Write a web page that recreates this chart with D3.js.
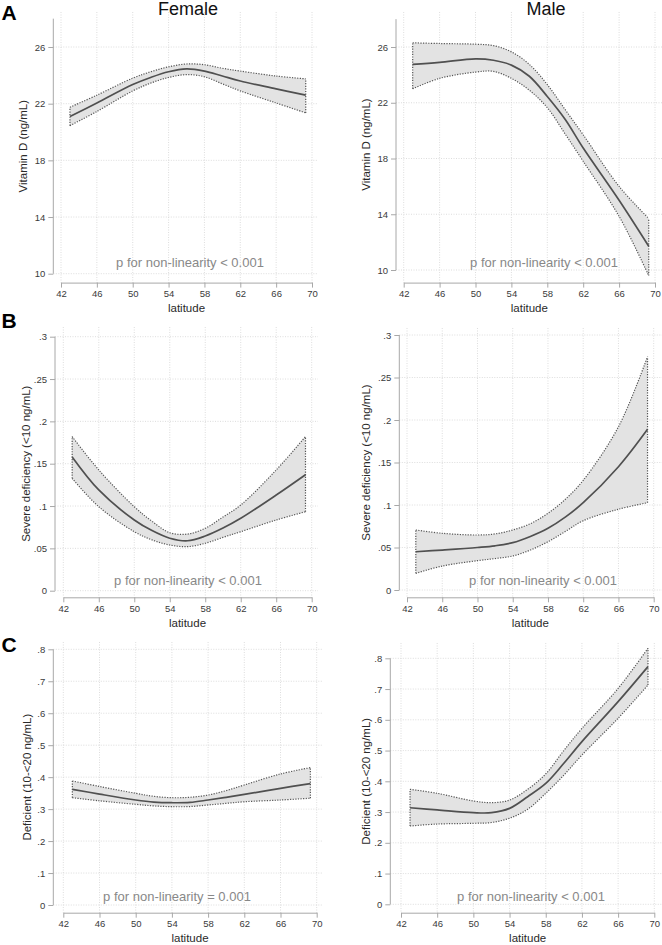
<!DOCTYPE html>
<html>
<head>
<meta charset="utf-8">
<script src="https://cdn.jsdelivr.net/npm/d3@7"></script>
<style>
html,body{margin:0;padding:0;background:#fff;}
svg{display:block;font-family:"Liberation Sans",Arial,sans-serif;}
</style>
</head>
<body>
<svg id="chart" width="662" height="945"></svg>
<script>
// ---------- data ----------
const latitude = [43, 46, 50, 52, 54, 56, 58, 60, 62, 66, 69.3];
const xTicks = [42, 46, 50, 54, 58, 62, 66, 70];

const vitDTicks = [10, 14, 18, 22, 26];
const severeTicks = [0, 0.05, 0.1, 0.15, 0.2, 0.25, 0.3];
const deficientTicks = [0, 0.1, 0.2, 0.3, 0.4, 0.5, 0.6, 0.7, 0.8];

const vitDFemale      = [21.1, 22.05, 23.35, 23.85, 24.25, 24.45, 24.3, 23.95, 23.6, 23.05, 22.6];
const vitDFemaleUpper = [21.75, 22.6, 23.8, 24.25, 24.6, 24.8, 24.75, 24.5, 24.3, 23.95, 23.75];
const vitDFemaleLower = [20.45, 21.45, 22.9, 23.45, 23.85, 24.05, 23.9, 23.4, 22.9, 22.05, 21.35];

const vitDMale      = [24.75, 24.9, 25.15, 25.05, 24.7, 23.9, 22.45, 20.8, 18.75, 15.0, 11.7];
const vitDMaleUpper = [26.3, 26.25, 26.2, 26.1, 25.65, 24.75, 23.3, 21.5, 19.7, 16.0, 13.7];
const vitDMaleLower = [23.0, 23.75, 24.2, 24.25, 23.75, 22.9, 21.65, 19.75, 17.8, 13.85, 9.6];

const severeFemale      = [0.158, 0.119, 0.0835, 0.071, 0.062, 0.059, 0.0646, 0.074, 0.0855, 0.113, 0.137];
const severeFemaleUpper = [0.182, 0.1426, 0.0992, 0.082, 0.0685, 0.0669, 0.0737, 0.087, 0.1012, 0.1426, 0.182];
const severeFemaleLower = [0.1327, 0.0992, 0.0697, 0.060, 0.054, 0.052, 0.056, 0.063, 0.0697, 0.0835, 0.0933];

const severeMale      = [0.045, 0.047, 0.050, 0.052, 0.0557, 0.063, 0.0726, 0.086, 0.1027, 0.145, 0.189];
const severeMaleUpper = [0.0706, 0.0667, 0.0647, 0.066, 0.0706, 0.078, 0.0902, 0.107, 0.129, 0.192, 0.2745];
const severeMaleLower = [0.0196, 0.0282, 0.0345, 0.037, 0.040, 0.047, 0.0568, 0.069, 0.0815, 0.095, 0.1027];

const deficientFemale      = [0.362, 0.347, 0.3285, 0.322, 0.320, 0.321, 0.3285, 0.337, 0.346, 0.365, 0.380];
const deficientFemaleUpper = [0.388, 0.371, 0.3495, 0.340, 0.3357, 0.337, 0.344, 0.358, 0.3755, 0.410, 0.4296];
const deficientFemaleLower = [0.3357, 0.326, 0.315, 0.310, 0.3076, 0.308, 0.313, 0.318, 0.323, 0.3285, 0.334];

const deficientMale      = [0.314, 0.307, 0.298, 0.298, 0.312, 0.350, 0.393, 0.4585, 0.529, 0.659, 0.773];
const deficientMaleUpper = [0.374, 0.361, 0.336, 0.3305, 0.339, 0.374, 0.424, 0.500, 0.572, 0.702, 0.8325];
const deficientMaleLower = [0.2546, 0.261, 0.2634, 0.266, 0.280, 0.309, 0.361, 0.420, 0.4855, 0.605, 0.713];

const pTexts = ["p for non-linearity < 0.001", "p for non-linearity < 0.001",
                "p for non-linearity < 0.001", "p for non-linearity < 0.001",
                "p for non-linearity = 0.001", "p for non-linearity < 0.001"];
const yTitles = ["Vitamin D (ng/mL)", "Severe deficiency (<10 ng/mL)", "Deficient (10-<20 ng/mL)"];
const colTitles = ["Female", "Male"];
const rowLetters = ["A", "B", "C"];
const xTitle = "latitude";

// ---------- layout (positions only) ----------
const layouts = [
  {x0:61,   x1:312,   ax:53.3,  yb:273.7, yt:47,    xa:282.6, gridTop:12,  gridRight:318, axTop:28,  pX:190,   pY:267, titleX:23},
  {x0:403.7,x1:655,   ax:396,   yb:270,   yt:47,    xa:282.6, gridTop:12,  gridRight:662, axTop:28,  pX:544,   pY:267, titleX:366},
  {x0:63.3, x1:311.7, ax:55,    yb:590.7, yt:336.7, xa:597.3, gridTop:327, gridRight:318, axTop:0.3, pX:188,   pY:585, titleX:26},
  {x0:407,  x1:653.7, ax:399.3, yb:590,   yt:335,   xa:597.3, gridTop:328, gridRight:662, axTop:0.3, pX:543,   pY:585, titleX:366},
  {x0:63.3, x1:316.7, ax:53.3,  yb:905,   yt:649.3, xa:912.7, gridTop:642, gridRight:322, axTop:0.8, pX:177,   pY:901, titleX:27},
  {x0:401,  x1:654.3, ax:390.3, yb:904.3, yt:658.3, xa:912.7, gridTop:643, gridRight:662, axTop:0.8, pX:531,   pY:901, titleX:366}
];

const series = [
  {mid:vitDFemale, up:vitDFemaleUpper, lo:vitDFemaleLower, ticks:vitDTicks},
  {mid:vitDMale, up:vitDMaleUpper, lo:vitDMaleLower, ticks:vitDTicks},
  {mid:severeFemale, up:severeFemaleUpper, lo:severeFemaleLower, ticks:severeTicks},
  {mid:severeMale, up:severeMaleUpper, lo:severeMaleLower, ticks:severeTicks},
  {mid:deficientFemale, up:deficientFemaleUpper, lo:deficientFemaleLower, ticks:deficientTicks},
  {mid:deficientMale, up:deficientMaleUpper, lo:deficientMaleLower, ticks:deficientTicks}
];

const fmt = v => {
  if (v === 0) return "0";
  let s = String(+v.toFixed(3));
  if (s.startsWith("0.")) s = s.slice(1);
  return s;
};

const svg = d3.select("#chart");

series.forEach((s, i) => {
  const L = layouts[i];
  const g = svg.append("g");
  const x = d3.scaleLinear().domain([42, 70]).range([L.x0, L.x1]);
  const y = d3.scaleLinear().domain([s.ticks[0], s.ticks[s.ticks.length - 1]]).range([L.yb, L.yt]);

  // grid
  g.append("g").selectAll("line.vg").data(xTicks).join("line")
    .attr("x1", d => x(d)).attr("x2", d => x(d))
    .attr("y1", L.gridTop).attr("y2", L.xa)
    .attr("stroke", "#d4d4d4").attr("stroke-width", 0.8).attr("stroke-dasharray", "1,1.5");
  g.append("g").selectAll("line.hg").data(s.ticks).join("line")
    .attr("x1", L.ax).attr("x2", L.gridRight)
    .attr("y1", d => y(d)).attr("y2", d => y(d))
    .attr("stroke", "#d4d4d4").attr("stroke-width", 0.8).attr("stroke-dasharray", "1,1.5");

  const pts = latitude.map((lat, k) => ({lat, m: s.mid[k], u: s.up[k], l: s.lo[k]}));
  const curve = d3.curveCatmullRom.alpha(0.5);

  // CI band fill
  g.append("path").datum(pts)
    .attr("d", d3.area().x(d => x(d.lat)).y0(d => y(d.l)).y1(d => y(d.u)).curve(curve))
    .attr("fill", "#e3e3e3").attr("stroke", "none");
  // CI outline (dotted)
  const upLine = d3.line().x(d => x(d.lat)).y(d => y(d.u)).curve(curve);
  const loLine = d3.line().x(d => x(d.lat)).y(d => y(d.l)).curve(curve);
  [upLine, loLine].forEach(fn => {
    g.append("path").datum(pts).attr("d", fn)
      .attr("fill", "none").attr("stroke", "#555").attr("stroke-width", 1.2).attr("stroke-dasharray", "1.2,1.4");
  });
  [pts[0], pts[pts.length - 1]].forEach(p => {
    g.append("line").attr("x1", x(p.lat)).attr("x2", x(p.lat)).attr("y1", y(p.l)).attr("y2", y(p.u))
      .attr("stroke", "#555").attr("stroke-width", 1.2).attr("stroke-dasharray", "1.2,1.4");
  });
  // estimate line
  g.append("path").datum(pts)
    .attr("d", d3.line().x(d => x(d.lat)).y(d => y(d.m)).curve(curve))
    .attr("fill", "none").attr("stroke", "#505050").attr("stroke-width", 1.7);

  // y axis
  const yAx = g.append("g").attr("transform", `translate(${L.ax},0)`)
    .call(d3.axisLeft(y).tickValues(s.ticks).tickFormat(fmt).tickSize(5).tickSizeOuter(0).tickPadding(3));
  yAx.select(".domain").attr("d", `M0,${y(s.ticks[0])}V${y(L.axTop)}`);
  // x axis
  const xAx = g.append("g").attr("transform", `translate(0,${L.xa})`)
    .call(d3.axisBottom(x).tickValues(xTicks).tickSize(5).tickSizeOuter(0).tickPadding(3));
  [yAx, xAx].forEach(a => {
    a.select(".domain").attr("stroke", "#a8a8a8").attr("stroke-width", 1);
    a.selectAll(".tick line").attr("stroke", "#a8a8a8");
    a.selectAll(".tick text").attr("fill", "#3a3a3a").attr("font-size", 9.5)
      .attr("font-family", '"Liberation Sans",Arial,sans-serif');
  });

  // p text
  g.append("text").attr("x", L.pX).attr("y", L.pY).attr("text-anchor", "middle")
    .attr("font-size", 13).attr("fill", "#888").text(pTexts[i]);

  // y title
  const row = Math.floor(i / 2);
  const cy = (y(s.ticks[0]) + y(L.axTop)) / 2;
  g.append("text").attr("transform", `translate(${L.titleX + 4},${cy}) rotate(-90)`)
    .attr("text-anchor", "middle").attr("font-size", 11.5).attr("fill", "#2a2a2a").text(yTitles[row]);

  // x title
  g.append("text").attr("x", (L.x0 + L.x1) / 2).attr("y", L.xa + 29.5)
    .attr("text-anchor", "middle").attr("font-size", 11.5).attr("fill", "#2a2a2a").text(xTitle);
});

// column titles
svg.append("text").attr("x", 188).attr("y", 15).attr("text-anchor", "middle")
  .attr("font-size", 18).attr("fill", "#111").text(colTitles[0]);
svg.append("text").attr("x", 546).attr("y", 15).attr("text-anchor", "middle")
  .attr("font-size", 18).attr("fill", "#111").text(colTitles[1]);

// row letters
const letterY = [20, 328, 652];
rowLetters.forEach((t, r) => {
  svg.append("text").attr("x", 1.5).attr("y", letterY[r]).attr("font-size", 21)
    .attr("font-weight", "bold").attr("fill", "#000").text(t);
});
</script>
</body>
</html>
